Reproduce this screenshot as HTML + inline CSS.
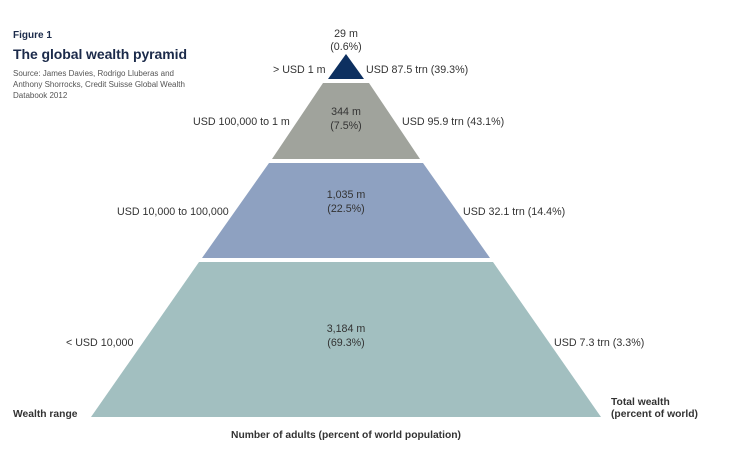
<!DOCTYPE html>
<html><head><meta charset="utf-8"><style>
body{margin:0;background:#fff;width:734px;height:451px;overflow:hidden;font-family:"Liberation Sans",sans-serif;}
svg text{font-family:"Liberation Sans",sans-serif;}
</style></head><body>
<svg width="734" height="451" xmlns="http://www.w3.org/2000/svg">
<text x="13" y="38" font-size="10" font-weight="bold" fill="#1b2a4a">Figure 1</text>
<text x="13" y="59" font-size="14" font-weight="bold" fill="#1b2a4a" textLength="174">The global wealth pyramid</text>
<text x="13" y="76" font-size="8" fill="#555">Source: James Davies, Rodrigo Lluberas and</text>
<text x="13" y="87" font-size="8" fill="#555">Anthony Shorrocks, Credit Suisse Global Wealth</text>
<text x="13" y="98" font-size="8" fill="#555">Databook 2012</text>
<polygon points="346,54 364,79 328,79" fill="#0d3060"/>
<polygon points="323,83 369,83 420,159 272,159" fill="#a0a39c"/>
<polygon points="269,163 423,163 490,258 202,258" fill="#8ea1c1"/>
<polygon points="199,262 493,262 601,417 91,417" fill="#a2bfc0"/>
<g font-size="10.7" fill="#333" text-anchor="middle">
<text x="346" y="37">29 m</text><text x="346" y="50">(0.6%)</text>
<text x="346" y="115">344 m</text><text x="346" y="129">(7.5%)</text>
<text x="346" y="198">1,035 m</text><text x="346" y="212">(22.5%)</text>
<text x="346" y="332">3,184 m</text><text x="346" y="346">(69.3%)</text>
<text x="346" y="438" font-weight="bold" font-size="10.3">Number of adults (percent of world population)</text>
</g>
<g font-size="10.7" fill="#333">
<text x="273" y="73">&gt; USD 1 m</text>
<text x="366" y="73">USD 87.5 trn (39.3%)</text>
<text x="193" y="125">USD 100,000 to 1 m</text>
<text x="402" y="125">USD 95.9 trn (43.1%)</text>
<text x="117" y="215">USD 10,000 to 100,000</text>
<text x="463" y="215">USD 32.1 trn (14.4%)</text>
<text x="66" y="346">&lt; USD 10,000</text>
<text x="554" y="346">USD 7.3 trn (3.3%)</text>
<text x="13" y="417" font-weight="bold" font-size="10.3">Wealth range</text>
<text x="611" y="405" font-weight="bold" font-size="10.3">Total wealth</text>
<text x="611" y="417" font-weight="bold" font-size="10.3">(percent of world)</text>
</g>
</svg>
</body></html>
